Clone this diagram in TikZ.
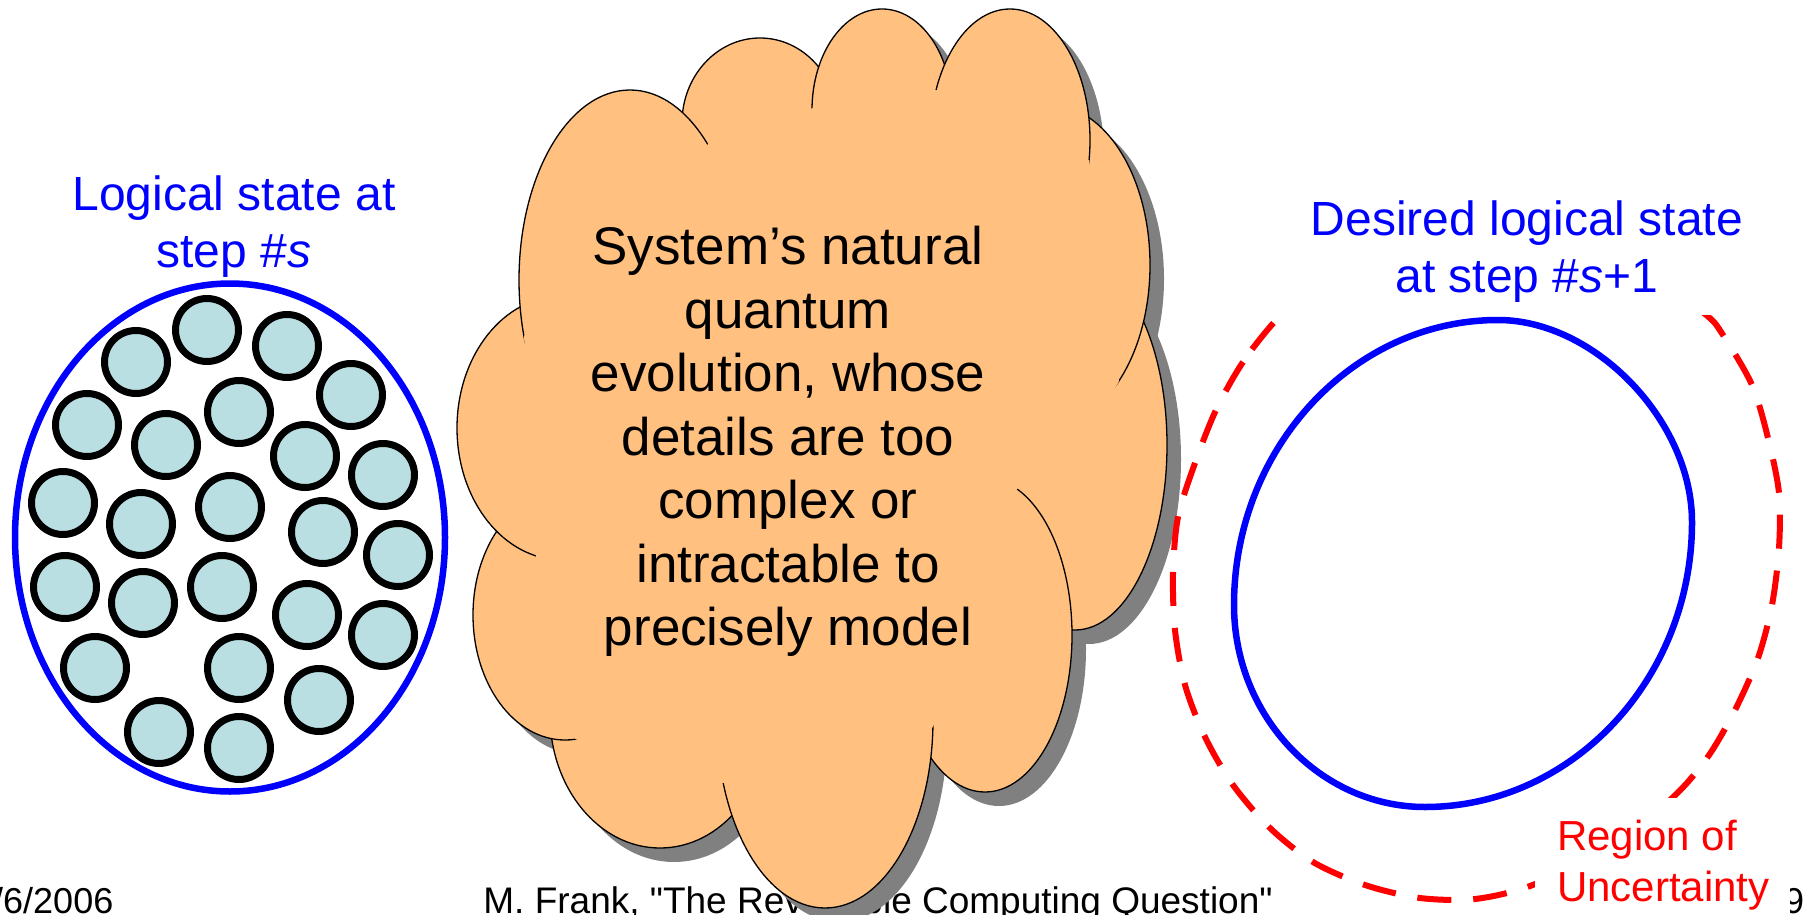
\documentclass[tikz,border=0pt]{standalone}
\usepackage{fontspec}
\setmainfont{Liberation Sans}
\newfontfamily\footfont{Liberation Sans}
\usepackage{tikz}
\definecolor{cloudfill}{RGB}{255,192,128}
\definecolor{dotfill}{RGB}{186,223,226}
\definecolor{shadowgray}{RGB}{128,128,128}

\begin{document}
\begin{tikzpicture}[x=1pt, y=-1pt,
    bubble/.style={draw=black, line width=7pt, fill=dotfill},
    puff/.style={draw=black, line width=1.3pt, fill=cloudfill},
    ring/.style={draw=blue, line width=6.5pt},
    blurb/.style={inner sep=0pt, align=center, text=blue, font=\fontsize{48}{57}\selectfont}]
    \useasboundingbox (0,0) rectangle (1815,915);

    % Footer
    \node[anchor=base west, inner sep=0pt, font=\footfont\fontsize{36}{40}\selectfont] (date) at (-7,913) {/6/2006};
    \node[anchor=base, inner sep=0pt, font=\footfont\fontsize{37}{40}\selectfont] (talk) at (878,913) {M. Frank, "The Reversible Computing Question"};
    \node[anchor=base west, inner sep=0pt, font=\footfont\fontsize{36}{40}\selectfont] (page) at (1784,913) {9};

    % Logical state at step s
    \draw[ring] (230,537.5) ellipse [x radius=215pt, y radius=254pt];
    \foreach \x/\y in {207/330, 136/362, 287/346, 351/395, 87/425, 239/412,
                       166/445, 305/456, 383/475, 63/503, 141/524, 230/507,
                       323/532, 398/555, 65/587, 143/603, 222/587, 307/615,
                       383/635, 95/668, 239/668, 319/700, 159/732, 239/748} {
      \draw[bubble] (\x,\y) circle (31.5pt);
    }
    \node[blurb] (logical) at (234,226.5) {Logical state at\\step \#\textit{s}};

    % Cloud: shadow, puffs, core
    \foreach \cx/\cy/\rx/\ry in {660/715/110/133, 565/615/92/125, 562/428/105/132,
                                 760/123/78/85, 882/110/70/101, 1075/445/92/185,
                                 1050/265/100/160, 1010/140/80/131, 985/635/87/157,
                                 825/720/108/188, 630/280/111/190} {
      \fill[shadowgray] (\cx+14,\cy+14) ellipse [x radius=\rx pt, y radius=\ry pt];
    }
    \foreach \cx/\cy/\rx/\ry in {660/715/110/133, 565/615/92/125, 562/428/105/132,
                                 760/123/78/85, 882/110/70/101, 1075/445/92/185,
                                 1050/265/100/160, 1010/140/80/131, 985/635/87/157,
                                 825/720/108/188, 630/280/111/190} {
      \draw[puff] (\cx,\cy) ellipse [x radius=\rx pt, y radius=\ry pt];
    }
    \fill[cloudfill] (524,336) -- (708,144) -- (813,108) -- (936,90) -- (1089,160)
      -- (1119,381) -- (1095,425) -- (1017,489) -- (933,727) -- (723,783)
      -- (575,739) -- (536,556) -- cycle;
    \node[inner sep=0pt, align=center, font=\fontsize{53}{63.5}\selectfont] (evolution) at (788,441.5)
      {System’s natural\\quantum\\evolution, whose\\details are too\\complex or\\intractable to\\precisely model};

    % Region of uncertainty
    \draw[red, line width=6pt, dash pattern=on 34pt off 22pt] plot[smooth cycle] coordinates {
      (1278,318) (1243,362) (1216,410) (1195,463) (1178,517) (1173,573)
      (1175,630) (1185,685) (1205,737) (1233,785) (1270,828) (1313,862)
      (1365,885) (1420,898) (1475,899) (1530,886) (1600,853) (1670,800)
      (1707,758) (1735,710) (1758,658) (1772,605) (1779,548) (1779,493)
      (1768,438) (1752,385) (1723,335) (1705,314) (1640,268) (1560,246)
      (1480,240) (1400,248) (1330,270)};
    \fill[white] (1270,150) rectangle (1720,315);
    \fill[white] (1535,798) rectangle (1790,915);

    % Desired logical state at step s+1
    \draw[ring] (1498,320) .. controls (1595,320) and (1692,421) .. (1692,522)
      .. controls (1692,679) and (1572,807) .. (1425,807)
      .. controls (1320,807) and (1234,716) .. (1234,605)
      .. controls (1234,448) and (1353,320) .. cycle;
    \node[blurb] (desired) at (1527,251.7) {Desired logical state\\at step \#\textit{s}+1};
    \node[anchor=north west, inner sep=0pt, align=left, text=red, font=\fontsize{42}{51}\selectfont] (region) at (1557,820)
      {Region of\\Uncertainty};
  \end{tikzpicture}
\end{document}
